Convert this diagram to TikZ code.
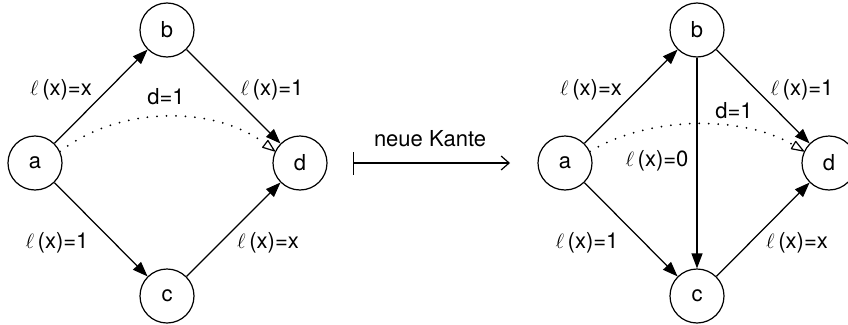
\documentclass[tikz,border=0pt]{standalone}
\usepackage{fontspec}
\setmainfont{TeX Gyre Heros}
\usetikzlibrary{arrows.meta}
\tikzset{
  vert/.style={circle, draw, line width=1.2pt, minimum size=54pt, inner sep=0pt,
               font=\fontsize{22}{26}\selectfont},
  lbl/.style={inner sep=0pt, font=\fontsize{22}{26}\selectfont},
  edge/.style={line width=1.25pt, -{Triangle[length=15pt,width=11pt]}},
  dist/.style={line width=2pt, line cap=round, dash pattern=on 0pt off 9.5pt,
               -{Triangle[open,length=14pt,width=10pt,line width=1.2pt,round=false]}},
  mapsto/.style={line width=1.2pt,
               {Bar[width=23pt,line width=1.2pt]}-{Straight Barb[length=8pt,width=14pt,line width=1.2pt]}}
}
\newcommand{\ellx}[1]{$\ell$\,(x)=#1}
\begin{document}
\begin{tikzpicture}[x=1pt, y=-1pt]
  \useasboundingbox (0,0) rectangle (848,324);

  % ---- original network ----
  \node[vert] (a1) at (35,163) {a};
  \node[vert] (b1) at (167,30) {b};
  \node[vert] (c1) at (167,296) {c};
  \node[vert] (d1) at (300,163) {d};

  \draw[edge] (a1) -- (b1);
  \draw[edge] (b1) -- (d1);
  \draw[edge] (a1) -- (c1);
  \draw[edge] (c1) -- (d1);
  \draw[dist] (a1.25) .. controls +(60,-46) and +(-60,-46) .. (d1.155);

  \node[lbl] (l1ab) at (61,90) {\ellx{x}};
  \node[lbl] (l1bd) at (272,90) {\ellx{1}};
  \node[lbl] (l1ac) at (57,243) {\ellx{1}};
  \node[lbl] (l1cd) at (268,243) {\ellx{x}};
  \node[lbl] (l1d) at (166,97) {d=1};

  % ---- transformation arrow ----
  \coordinate (m1) at (353,163);
  \coordinate (m2) at (510,163);
  \draw[mapsto] (m1) -- (m2);
  \node[lbl] (nk) at (430,139) {neue Kante};

  % ---- network with the new edge ----
  \node[vert] (a2) at (565,163) {a};
  \node[vert] (b2) at (697,30) {b};
  \node[vert] (c2) at (697,296) {c};
  \node[vert] (d2) at (829,163) {d};

  \draw[edge] (a2) -- (b2);
  \draw[edge] (b2) -- (d2);
  \draw[edge] (a2) -- (c2);
  \draw[edge] (c2) -- (d2);
  \draw[edge] (b2) -- (c2);
  \draw[dist] (a2.25) .. controls +(60,-36) and +(-60,-36) .. (d2.155);

  \node[lbl] (l2ab) at (591,90) {\ellx{x}};
  \node[lbl] (l2bd) at (802,90) {\ellx{1}};
  \node[lbl] (l2ac) at (587,243) {\ellx{1}};
  \node[lbl] (l2cd) at (797,243) {\ellx{x}};
  \node[lbl] (l2bc) at (657,161) {\ellx{0}};
  \node[lbl] (l2d) at (734,111) {d=1};
\end{tikzpicture}
\end{document}
